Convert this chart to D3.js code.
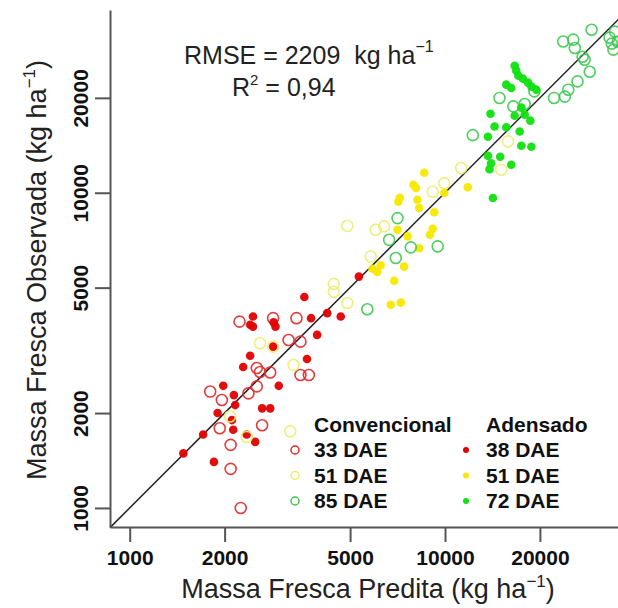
<!DOCTYPE html>
<html>
<head>
<meta charset="utf-8">
<script src="https://cdn.jsdelivr.net/npm/d3@7"></script>
<style>
  body { margin: 0; background: #fff; }
  text { font-family: "Liberation Sans", Arial, sans-serif; }
</style>
</head>
<body>
<div id="viz"></div>
<script>
"use strict";

const w = 618;
const h = 608;

// [predita, observada] em kg/ha
const conv33 = [[2230,3900],[2850,4000],[3380,4000],[3190,3410],[3480,3370],[2530,2780],[2590,2700],[2790,2690],[3480,2640],[3700,2640],[1800,2340],[1960,2200],[2380,2310],[2530,2430],[1930,1790],[2630,1830],[2090,1585],[2090,1330],[2250,1000]];
const aden38 = [[3580,4670],[2460,4050],[2410,3810],[2460,3760],[2860,3880],[2900,3760],[3760,4000],[3930,3540],[4230,4150],[4670,4050],[2850,3250],[2410,3040],[2290,2800],[3650,2970],[2970,2440],[1980,2440],[2140,2280],[2630,2070],[2790,2070],[1900,2000],[2160,2120],[2110,1900],[2130,1770],[1710,1710],[2350,1710],[2500,1620],[1480,1490],[1850,1400],[5330,5420]];
const conv51 = [[4900,7860],[6030,7630],[6410,7820],[11250,11980],[9950,10730],[9140,10070],[15080,11830],[15840,14550],[5810,6280],[4440,5140],[4440,4850],[4900,4470],[3310,2840],[3230,1750],[2350,1680],[2080,1950],[2590,3330],[2850,3250]];
const aden51 = [[8590,11570],[7940,10600],[8090,10350],[7190,9640],[7110,9360],[8180,9500],[8280,8940],[9250,8670],[11810,10410],[9140,7690],[8960,7360],[7610,7270],[8280,6670],[6250,5890],[5890,5740],[6100,5610],[7420,5830],[6900,5260],[6730,4410],[7240,4480],[7070,7630],[9950,9980]];
const conv85 = [[7070,8310],[6650,7090],[7790,6710],[9480,6760],[6980,6210],[5670,4270],[12250,15230],[14890,19990],[16470,18790],[17890,19130],[19200,20970],[23710,30200],[25510,30600],[25800,28790],[27320,27020],[29170,32900],[22170,19990],[23990,20180],[24600,21230],[26310,22560],[28770,24210],[27730,26430],[33270,31050],[34600,32440],[34200,28440],[33800,29720],[35300,30150]];
const aden72 = [[16630,25300],[16830,24400],[17080,23520],[17670,23010],[18340,22350],[18790,21710],[19490,21230],[15640,22030],[16220,21490],[13940,17810],[14360,16230],[13680,15060],[15640,16140],[16630,17550],[17890,17690],[18650,16930],[17460,18620],[17250,15650],[17460,14100],[18790,13990],[13680,13100],[14000,12410],[13840,11880],[14960,13010],[16220,12270],[14190,9620]];

const xLim = [866, 37500];
const yLim = [870, 38000];
const tickVals = [1000, 2000, 5000, 10000, 20000];

const legConv = ["33 DAE", "51 DAE", "85 DAE"];
const legAden = ["38 DAE", "51 DAE", "72 DAE"];

const series = [
  { data: conv33, open: true,  color: "#e02828" },
  { data: aden38, open: false, color: "#e00000" },
  { data: conv51, open: true,  color: "#ecec70" },
  { data: aden51, open: false, color: "#f8e800" },
  { data: conv85, open: true,  color: "#3cc850" },
  { data: aden72, open: false, color: "#10e010" }
];

const svg = d3.select("#viz")
  .append("svg")
  .attr("width", w)
  .attr("height", h);

const x = d3.scaleLog().domain(xLim).range([110, 626]);
const y = d3.scaleLog().domain(yLim).range([527, 10]);

// linha 1:1
svg.append("line")
  .attr("x1", x(xLim[0])).attr("y1", y(xLim[0]))
  .attr("x2", x(xLim[1])).attr("y2", y(xLim[1]))
  .attr("stroke", "#222")
  .attr("stroke-width", 1.5);

series.forEach((s) => {
  svg.append("g")
    .selectAll("circle")
    .data(s.data)
    .join("circle")
    .attr("cx", d => x(d[0]))
    .attr("cy", d => y(d[1]))
    .attr("r", s.open ? 5.5 : 4.3)
    .attr("fill", s.open ? "none" : s.color)
    .attr("stroke", s.open ? s.color : "none")
    .attr("stroke-width", 1.6)
    .attr("opacity", s.open ? 0.9 : 0.95);
});

// eixos
const xAxis = svg.append("g")
  .attr("transform", `translate(0,${y(yLim[0])})`)
  .call(d3.axisBottom(x).tickValues(tickVals).tickFormat(d3.format("d")).tickSize(15).tickSizeOuter(0));
const yAxis = svg.append("g")
  .attr("transform", `translate(${x(xLim[0])},0)`)
  .call(d3.axisLeft(y).tickValues(tickVals).tickFormat(d3.format("d")).tickSize(15).tickSizeOuter(0));

[xAxis, yAxis].forEach((a) => {
  a.select(".domain").attr("stroke", "#555").attr("stroke-width", 2);
  a.selectAll(".tick line").attr("stroke", "#555").attr("stroke-width", 2);
  a.selectAll(".tick text")
    .attr("fill", "#111")
    .style("font-size", "21px")
    .style("font-weight", "bold")
    .style("font-family", "'Liberation Sans', Arial, sans-serif");
});
xAxis.selectAll(".tick text").attr("y", 23).attr("dy", "0.71em");
yAxis.selectAll(".tick text")
  .attr("x", null).attr("dy", null)
  .attr("text-anchor", "middle")
  .attr("transform", "translate(-22,0) rotate(-90)");

// títulos
function titulo(g, label) {
  const t = g.append("text")
    .attr("text-anchor", "middle")
    .attr("fill", "#222")
    .style("font-size", "27px");
  t.append("tspan").text(label + " (kg ha");
  t.append("tspan").attr("dy", -11).style("font-size", "17px").text("\u22121");
  t.append("tspan").attr("dy", 11).text(")");
  return t;
}
titulo(svg.append("g").attr("transform", "translate(368,598)"), "Massa Fresca Predita");
titulo(svg.append("g").attr("transform", "translate(46,270) rotate(-90)"), "Massa Fresca Observada");

// estatísticas
const st = svg.append("text")
  .attr("x", 184).attr("y", 64)
  .attr("fill", "#222")
  .style("font-size", "25px");
st.append("tspan").text("RMSE = 2209\u00a0\u00a0kg ha");
st.append("tspan").attr("dy", -12).style("font-size", "16px").text("\u22121");

const r2 = svg.append("text")
  .attr("x", 232).attr("y", 96)
  .attr("fill", "#222")
  .style("font-size", "25px");
r2.append("tspan").text("R");
r2.append("tspan").attr("dy", -11).style("font-size", "15px").text("2");
r2.append("tspan").attr("dy", 11).text(" = 0,94");

// legenda
const leg = svg.append("g").style("font-size", "21px").style("font-weight", "bold").attr("fill", "#111");
leg.append("text").attr("x", 314).attr("y", 432).text("Convencional");
leg.append("text").attr("x", 486).attr("y", 432).text("Adensado");
const rowY = d3.scalePoint().domain(d3.range(3)).range([457, 508]);
legConv.forEach((lab, i) => {
  leg.append("text").attr("x", 314).attr("y", rowY(i)).text(lab);
  leg.append("circle")
    .attr("cx", 295).attr("cy", rowY(i) - 7).attr("r", 4)
    .attr("fill", "none").attr("stroke", series[i * 2].color).attr("stroke-width", 1.5);
});
legAden.forEach((lab, i) => {
  leg.append("text").attr("x", 486).attr("y", rowY(i)).text(lab);
  leg.append("circle")
    .attr("cx", 466).attr("cy", rowY(i) - 7).attr("r", 3)
    .attr("fill", series[i * 2 + 1].color);
});
</script>
</body>
</html>
